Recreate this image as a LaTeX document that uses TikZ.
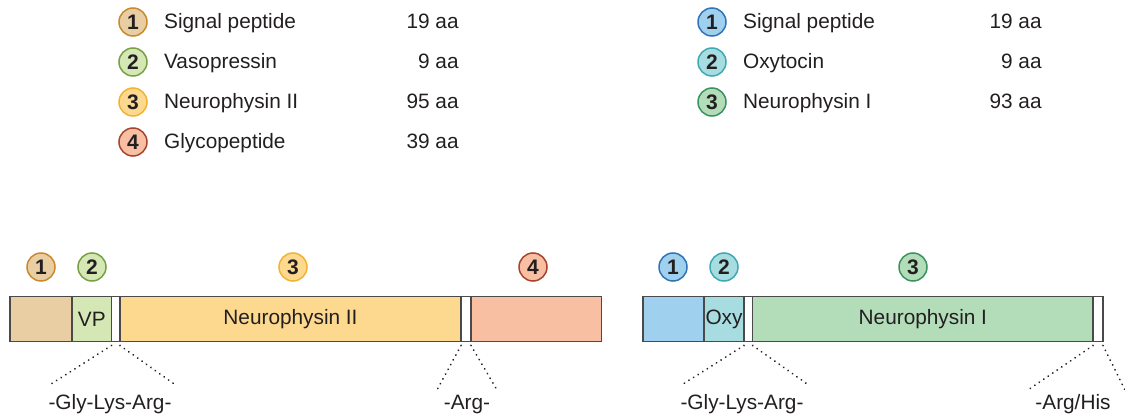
\documentclass[tikz,border=0pt]{standalone}
\usepackage{fontspec}
\setmainfont{Liberation Sans}
\usetikzlibrary{positioning}
\definecolor{ink}{HTML}{231F20}
\definecolor{barline}{HTML}{4A4A4A}
\definecolor{sigA}{HTML}{E9CDA3}\definecolor{sigAd}{HTML}{C98A2E}
\definecolor{vpA}{HTML}{D5E7B5}\definecolor{vpAd}{HTML}{78A045}
\definecolor{npA}{HTML}{FDD98F}\definecolor{npAd}{HTML}{F2B233}
\definecolor{glyA}{HTML}{F8BFA2}\definecolor{glyAd}{HTML}{A8432D}
\definecolor{sigB}{HTML}{9FD1EF}\definecolor{sigBd}{HTML}{2F74B5}
\definecolor{oxyB}{HTML}{A7DDE1}\definecolor{oxyBd}{HTML}{3FA9B3}
\definecolor{npB}{HTML}{B3DDB9}\definecolor{npBd}{HTML}{3A9263}

\tikzset{
  num/.style={circle,line width=0.75pt,minimum size=14pt,inner sep=0pt,
    font=\fontsize{10.5}{12}\selectfont\bfseries,text=ink},
  lab/.style={inner sep=0pt,text height=1.6ex,text depth=0.45ex,
    font=\fontsize{10.4}{12}\selectfont,text=ink},
  seg/.style={draw=barline,line width=0.75pt,minimum height=22.5pt,inner sep=0pt,
    outer sep=0pt,font=\fontsize{10.4}{12}\selectfont,text=ink},
  cut/.style={line width=1pt,line cap=round,dash pattern=on 0.01pt off 2.7pt,ink}
}

\begin{document}
\begin{tikzpicture}[x=0.5pt,y=-0.5pt]
  \useasboundingbox (0,0) rectangle (1125,417);

  % Legende links
  \node[num,fill=sigA,draw=sigAd] (la1) at (133,22) {1};
  \node[num,fill=vpA,draw=vpAd]   (la2) at (133,62) {2};
  \node[num,fill=npA,draw=npAd]   (la3) at (133,102) {3};
  \node[num,fill=glyA,draw=glyAd] (la4) at (133,142) {4};
  \node[lab,right=8pt of la1] (la1t) {Signal peptide};
  \node[lab,right=8pt of la2] (la2t) {Vasopressin};
  \node[lab,right=8pt of la3] (la3t) {Neurophysin II};
  \node[lab,right=8pt of la4] (la4t) {Glycopeptide};
  \node[lab,anchor=east] (la1a) at (459,22) {19 aa};
  \node[lab,anchor=east] (la2a) at (459,62) {9 aa};
  \node[lab,anchor=east] (la3a) at (459,102) {95 aa};
  \node[lab,anchor=east] (la4a) at (459,142) {39 aa};

  % Legende rechts
  \node[num,fill=sigB,draw=sigBd] (lb1) at (712,22) {1};
  \node[num,fill=oxyB,draw=oxyBd] (lb2) at (712,62) {2};
  \node[num,fill=npB,draw=npBd]   (lb3) at (712,102) {3};
  \node[lab,right=8pt of lb1] (lb1t) {Signal peptide};
  \node[lab,right=8pt of lb2] (lb2t) {Oxytocin};
  \node[lab,right=8pt of lb3] (lb3t) {Neurophysin I};
  \node[lab,anchor=east] (lb1a) at (1042,22) {19 aa};
  \node[lab,anchor=east] (lb2a) at (1042,62) {9 aa};
  \node[lab,anchor=east] (lb3a) at (1042,102) {93 aa};

  % Vorstufe Vasopressin
  \node[seg,fill=sigA,minimum width=31pt,anchor=west] (sa) at (10,319) {};
  \node[seg,fill=vpA,minimum width=19.75pt,right=0pt of sa] (vp) {VP};
  \node[seg,fill=white,minimum width=4.25pt,right=0pt of vp] (gkra) {};
  \node[seg,fill=npA,minimum width=170.5pt,right=0pt of gkra] (npa) {Neurophysin II};
  \node[seg,fill=white,minimum width=5pt,right=0pt of npa] (arga) {};
  \node[seg,fill=glyA,minimum width=65.25pt,right=0pt of arga] (gly) {};
  \node[num,fill=sigA,draw=sigAd] (ca1) at (41,267) {1};
  \node[num,fill=vpA,draw=vpAd]   (ca2) at (92,267) {2};
  \node[num,fill=npA,draw=npAd]   (ca3) at (293,267) {3};
  \node[num,fill=glyA,draw=glyAd] (ca4) at (533,267) {4};

  % Vorstufe Oxytocin
  \node[seg,fill=sigB,minimum width=30.5pt,anchor=west] (sb) at (643,319) {};
  \node[seg,fill=oxyB,minimum width=20pt,right=0pt of sb] (oxy) {Oxy};
  \node[seg,fill=white,minimum width=4.35pt,right=0pt of oxy] (gkrb) {};
  \node[seg,fill=npB,minimum width=170.15pt,right=0pt of gkrb] (npb) {Neurophysin I};
  \node[seg,fill=white,minimum width=5pt,right=0pt of npb] (argb) {};
  \node[num,fill=sigB,draw=sigBd] (cb1) at (673,267) {1};
  \node[num,fill=oxyB,draw=oxyBd] (cb2) at (724,267) {2};
  \node[num,fill=npB,draw=npBd]   (cb3) at (913,267) {3};

  % Spaltstellen
  \coordinate (g1l) at (48,386);   \coordinate (g1r) at (177,386);
  \coordinate (a1l) at (437,390);  \coordinate (a1r) at (497,390);
  \coordinate (g2l) at (680,386);  \coordinate (g2r) at (810,386);
  \coordinate (a2l) at (1028,390); \coordinate (a2r) at (1125,390);
  \draw[cut] ([yshift=-2pt]gkra.south west) -- (g1l);
  \draw[cut] ([yshift=-2pt]gkra.south east) -- (g1r);
  \draw[cut] ([yshift=-2pt]arga.south west) -- (a1l);
  \draw[cut] ([yshift=-2pt]arga.south east) -- (a1r);
  \draw[cut] ([yshift=-2pt]gkrb.south west) -- (g2l);
  \draw[cut] ([yshift=-2pt]gkrb.south east) -- (g2r);
  \draw[cut] ([yshift=-2pt]argb.south west) -- (a2l);
  \draw[cut] ([yshift=-2pt]argb.south east) -- (a2r);
  \node[lab] (gkr1) at (110,403) {-Gly-Lys-Arg-};
  \node[lab] (arg1) at (467,403) {-Arg-};
  \node[lab] (gkr2) at (742,403) {-Gly-Lys-Arg-};
  \node[lab] (arg2) at (1073,403) {-Arg/His};
\end{tikzpicture}
\end{document}
